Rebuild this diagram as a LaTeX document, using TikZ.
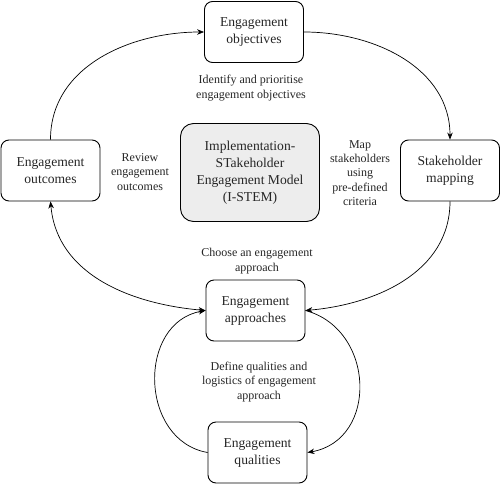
\documentclass[tikz,border=0pt]{standalone}
\usepackage{fontspec}
\setmainfont{Liberation Serif}
\usetikzlibrary{arrows.meta}
\begin{document}
\begin{tikzpicture}[x=1pt,y=-1pt,
    stagebox/.style={draw, line width=0.9pt, rounded corners=8pt, align=center,
        minimum width=99pt, minimum height=61pt, inner sep=2pt,
        font=\fontsize{13.6}{17}\selectfont, text=black!85},
    modelbox/.style={stagebox, fill=black!7, rounded corners=13pt,
        minimum width=139pt, minimum height=98pt},
    steptext/.style={align=center, inner sep=1pt, text=black!85,
        font=\fontsize{12}{14.3}\selectfont},
    flow/.style={line width=0.7pt, -{Stealth[length=7pt,width=5.5pt]}}]
\useasboundingbox (0,0) rectangle (501,485);
    % stages of the cycle
    \node[stagebox] (objectives) at (254,32) {Engagement\\objectives};
    \node[stagebox] (mapping) at (450,170.5) {Stakeholder\\mapping};
    \node[stagebox] (approaches) at (255.5,310.5) {Engagement\\approaches};
    \node[stagebox] (qualities) at (257.5,452.5) {Engagement\\qualities};
    \node[stagebox] (outcomes) at (50.5,170.5) {Engagement\\outcomes};
    \node[modelbox] (model) at (250,172.5) {Implementation-\\STakeholder\\Engagement Model\\(I-STEM)};
    % step descriptions
    \node[steptext] (identify) at (251,88) {Identify and prioritise\\engagement objectives};
    \node[steptext] (map) at (360,173) {Map\\stakeholders\\using\\pre-defined\\criteria};
    \node[steptext] (review) at (140,172) {Review\\engagement\\outcomes};
    \node[steptext] (choose) at (257,261) {Choose an engagement\\approach};
    \node[steptext] (define) at (259,382) {Define qualities and\\logistics of engagement\\approach};
    % connectors
    \draw[flow] (outcomes.north) to[out=90,in=180] (objectives.west);
    \draw[flow] (objectives.east) to[out=0,in=90] (mapping.north);
    \draw[flow] (mapping.south) to[out=-90,in=5] (approaches.east);
    \draw[flow, {Stealth[length=7pt,width=5.5pt]}-{Stealth[length=7pt,width=5.5pt]}]
        (approaches.west) to[out=175,in=-85] (outcomes.south);
    \draw[flow] (qualities.west) to[out=170,in=190,looseness=1.25] (approaches.west);
    \draw[flow] (approaches.east) to[out=-15,in=10,looseness=1.3] (qualities.east);
\end{tikzpicture}
\end{document}
